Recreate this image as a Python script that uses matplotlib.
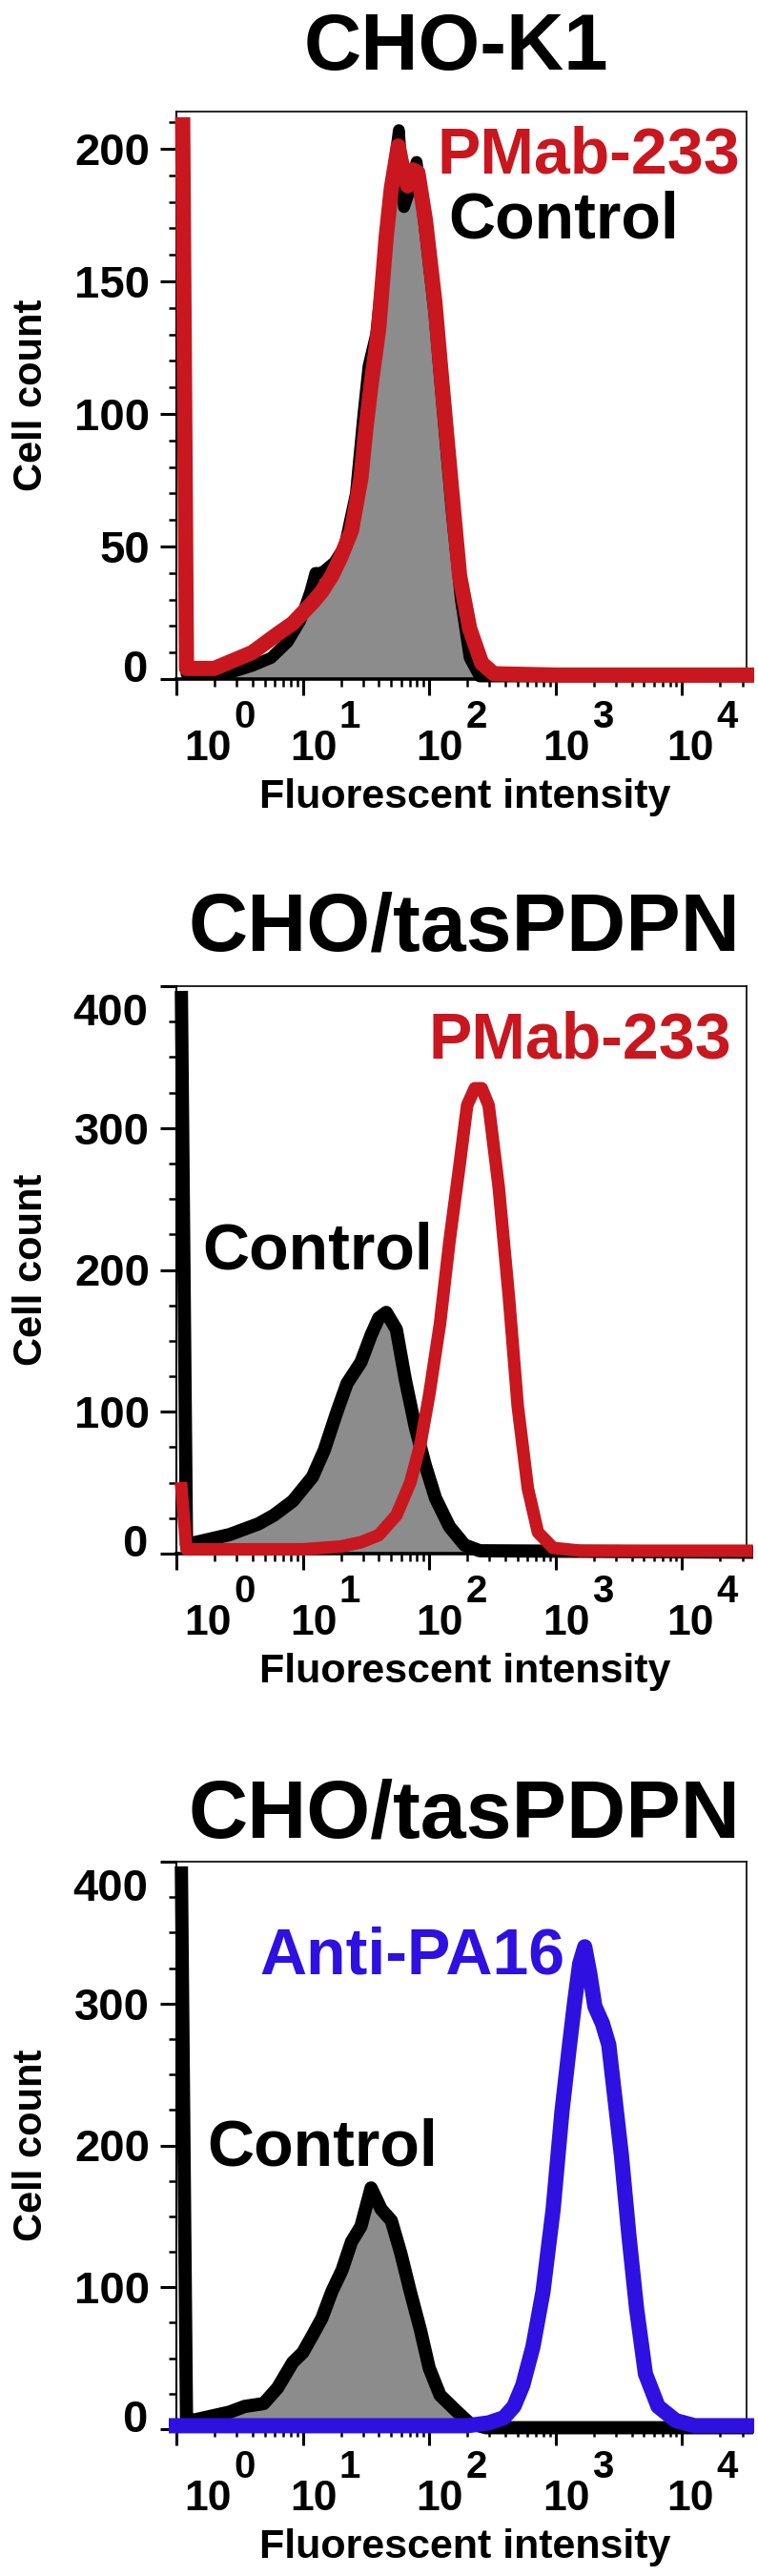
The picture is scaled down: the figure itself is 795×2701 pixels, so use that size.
import numpy as np
import matplotlib
matplotlib.use('Agg')
import matplotlib.pyplot as plt
from matplotlib.ticker import MultipleLocator, LogLocator, NullFormatter
from matplotlib.transforms import offset_copy, blended_transform_factory

plt.rcParams['font.family'] = ['Liberation Sans', 'DejaVu Sans']
plt.rcParams['font.weight'] = 'bold'
NARROW = ['Liberation Sans Narrow', 'Liberation Sans', 'DejaVu Sans']

RED = '#C8171E'
BLUE = '#2E10E0'
GRAY = '#8C8C8C'

# x values are log10(fluorescent intensity), y values are cell counts
# Panel 1: CHO-K1
k1_ctrl_log = [0.05, 0.08, 0.4, 0.6, 0.75, 0.88, 0.98, 1.06, 1.1, 1.15, 1.25, 1.33, 1.42, 1.48, 1.52,
               1.58, 1.64, 1.7, 1.76, 1.8, 1.85, 1.9, 1.96, 2.04, 2.1, 2.18, 2.25, 2.32, 2.4, 4.51]
k1_ctrl_cnt = [205, 2, 2, 5, 8, 14, 22, 33, 40, 40, 44, 50, 70, 100, 118,
               130, 158, 185, 207, 178, 185, 195, 172, 138, 105, 62, 30, 8, 1, 1]
k1_pmab_log = [0.05, 0.08, 0.3, 0.45, 0.6, 0.7, 0.8, 0.92, 1.0, 1.08, 1.15, 1.23, 1.3, 1.385, 1.46,
               1.5, 1.54, 1.6, 1.66, 1.7, 1.755, 1.8, 1.83, 1.87, 1.91, 1.97, 2.045, 2.1, 2.18,
               2.24, 2.32, 2.415, 2.51, 3.0, 4.51]
k1_pmab_cnt = [209, 4, 4, 7, 10, 13.5, 17, 21, 25, 29, 33, 39, 46, 56, 76,
               95, 111, 132, 167, 185, 201, 190, 186, 192, 191, 173, 142, 112, 70,
               39, 19, 6, 2, 1.5, 1.5]

# Panel 2: CHO/tasPDPN, PMab-233
tp_ctrl_log = [0.04, 0.08, 0.145, 0.42, 0.65, 0.77, 0.92, 1.076, 1.17, 1.27, 1.35, 1.46, 1.54,
               1.6, 1.66, 1.74, 1.81, 1.89, 1.97, 2.05, 2.16, 2.28, 2.4, 4.51]
tp_ctrl_cnt = [392, 6, 7.7, 13.4, 21, 27, 37, 54, 73, 100, 120, 135, 154,
               166, 170, 158, 123, 89, 62, 39, 19, 6, 2, 1]
tp_pmab_log = [0.04, 0.08, 1.0, 1.3, 1.46, 1.6, 1.74, 1.85, 1.93, 2.0, 2.085, 2.16, 2.24, 2.3,
               2.36, 2.415, 2.47, 2.55, 2.63, 2.7, 2.78, 2.86, 2.98, 3.2, 4.51]
tp_pmab_cnt = [46, 3, 3, 5, 8, 13, 27, 50, 77, 112, 162, 220, 274, 316,
               328, 328, 316, 258, 181, 104, 46, 15, 4, 2, 2]

# Panel 3: CHO/tasPDPN, Anti-PA16
ta_ctrl_log = [0.04, 0.08, 0.145, 0.42, 0.54, 0.69, 0.8, 0.92, 1.0, 1.076, 1.15, 1.23, 1.31, 1.385,
               1.46, 1.54, 1.62, 1.7, 1.775, 1.85, 1.93, 2.0, 2.085, 2.2, 2.32, 2.45, 4.51]
ta_ctrl_cnt = [392, 6, 6.5, 12, 16, 18, 29, 47, 54, 66, 78, 97, 112, 132,
               143, 170, 155, 147, 124, 97, 70, 43, 24, 14, 4, 1, 1]
ta_pa16_log = [0.0, 2.3, 2.47, 2.59, 2.67, 2.74, 2.82, 2.9, 2.98, 3.05, 3.11, 3.15, 3.19, 3.23,
               3.27, 3.31, 3.37, 3.42, 3.46, 3.52, 3.58, 3.64, 3.71, 3.81, 3.95, 4.1, 4.51]
ta_pa16_cnt = [2.4, 2.4, 4.4, 8, 16, 31, 58, 97, 155, 224, 271, 301, 328, 340,
               321, 298, 286, 271, 240, 193, 136, 85, 39, 16, 6, 2.4, 2.4]

titles = ['CHO-K1', 'CHO/tasPDPN', 'CHO/tasPDPN']
decades = [0, 1, 2, 3, 4]

W, H = 795, 2701
fig = plt.figure(figsize=(W / 100, H / 100), dpi=100)

AX_L, AX_W, AX_H = 185, 598, 595


def draw_panel(top, title, title_x, title_base, title_size, ymax, ymajor, yminor,
               ctrl, ctrl_lw, other, other_color, other_lw, labels):
    ax = fig.add_axes([AX_L / W, 1 - (top + AX_H) / H, AX_W / W, AX_H / H])
    ax.set_xscale('log')
    ax.set_xlim(1, 10 ** 4.51)
    ax.set_ylim(0, ymax)

    cx = 10 ** np.array(ctrl[0])
    ax.fill_between(cx, ctrl[1], 0, color=GRAY, lw=0, zorder=1)
    ax.plot(cx, ctrl[1], color='black', lw=ctrl_lw, solid_joinstyle='round',
            clip_on=False, zorder=3)
    ax.plot(10 ** np.array(other[0]), other[1], color=other_color, lw=other_lw,
            solid_joinstyle='round', clip_on=False, zorder=4)

    # spines and ticks
    ax.spines['bottom'].set_linewidth(2.6)
    ax.spines['left'].set_linewidth(1.5)
    ax.spines['top'].set_linewidth(1.2)
    ax.spines['right'].set_linewidth(1.2)
    ax.set_xticks([10 ** k for k in decades])
    ax.set_xticklabels([''] * len(decades))
    ax.xaxis.set_minor_locator(LogLocator(base=10, subs=np.arange(2, 10)))
    ax.xaxis.set_minor_formatter(NullFormatter())
    ax.set_yticks(ymajor)
    ax.set_yticklabels([''] + [str(v) for v in ymajor[1:-1]] +
                       ([''] if ymajor[-1] >= ymax else [str(ymajor[-1])]),
                       fontsize=34, family=NARROW)
    ax.yaxis.set_minor_locator(MultipleLocator(yminor))
    ax.tick_params(axis='both', which='major', length=12, width=2.2, direction='out')
    ax.tick_params(axis='both', which='minor', length=6, width=1.8, direction='out')
    ax.tick_params(axis='y', which='major', pad=8)

    # edge y labels sit inside the range
    ytr = blended_transform_factory(ax.transAxes, ax.transData)
    ax.text(0, 0, '0', transform=offset_copy(ytr, fig=fig, x=-30, y=14, units='dots'),
            ha='right', va='center_baseline', fontsize=34, family=NARROW)
    if ymajor[-1] >= ymax:
        ax.text(0, ymajor[-1], str(ymajor[-1]),
                transform=offset_copy(ytr, fig=fig, x=-30, y=-24, units='dots'),
                ha='right', va='center_baseline', fontsize=34, family=NARROW)

    # x tick labels: 10 with a raised exponent
    xtr = blended_transform_factory(ax.transData, ax.transAxes)
    for k in decades:
        dx = 33 if k == 0 else (9 if k == 4 else 11)
        ax.text(10 ** k, 0, '10', transform=offset_copy(xtr, fig=fig, x=dx, y=-85, units='dots'),
                ha='center', va='baseline', fontsize=32, family=NARROW)
        ax.text(10 ** k, 0, str(k),
                transform=offset_copy(xtr, fig=fig, x=dx + 27, y=-51, units='dots'),
                ha='left', va='baseline', fontsize=29, family=NARROW)

    ax.text(0.506, 0, 'Fluorescent intensity',
            transform=offset_copy(ax.transAxes, fig=fig, y=-135, units='dots'),
            ha='center', va='baseline', fontsize=31)
    ax.text(-(AX_L - 33) / AX_W, 0.5, 'Cell count', transform=ax.transAxes,
            rotation=90, ha='center', va='center', fontsize=30)

    for txt, fx, fy, col in labels:
        ax.text(fx, fy, txt, transform=ax.transAxes, ha='center', va='baseline',
                fontsize=49, color=col)

    fig.text(title_x / W, 1 - title_base / H, title, ha='center', va='baseline',
             fontsize=title_size)
    return ax


draw_panel(117, titles[0], 478, 73, 60, 214, [0, 50, 100, 150, 200], 10,
           (k1_ctrl_log, k1_ctrl_cnt), 9, (k1_pmab_log, k1_pmab_cnt), RED, 11.5,
           [('PMab-233', 0.723, 0.892, RED), ('Control', 0.680, 0.777, 'black')])

draw_panel(1034, titles[1], 487, 997, 62, 400, [0, 100, 200, 300, 400], 25,
           (tp_ctrl_log, tp_ctrl_cnt), 10, (tp_pmab_log, tp_pmab_cnt), RED, 9.5,
           [('PMab-233', 0.708, 0.873, RED), ('Control', 0.2475, 0.502, 'black')])

draw_panel(1952, titles[2], 487, 1926, 62, 400, [0, 100, 200, 300, 400], 25,
           (ta_ctrl_log, ta_ctrl_cnt), 10, (ta_pa16_log, ta_pa16_cnt), BLUE, 11.5,
           [('Anti-PA16', 0.413, 0.802, BLUE), ('Control', 0.256, 0.464, 'black')])

fig.savefig('out.png', dpi=100)
